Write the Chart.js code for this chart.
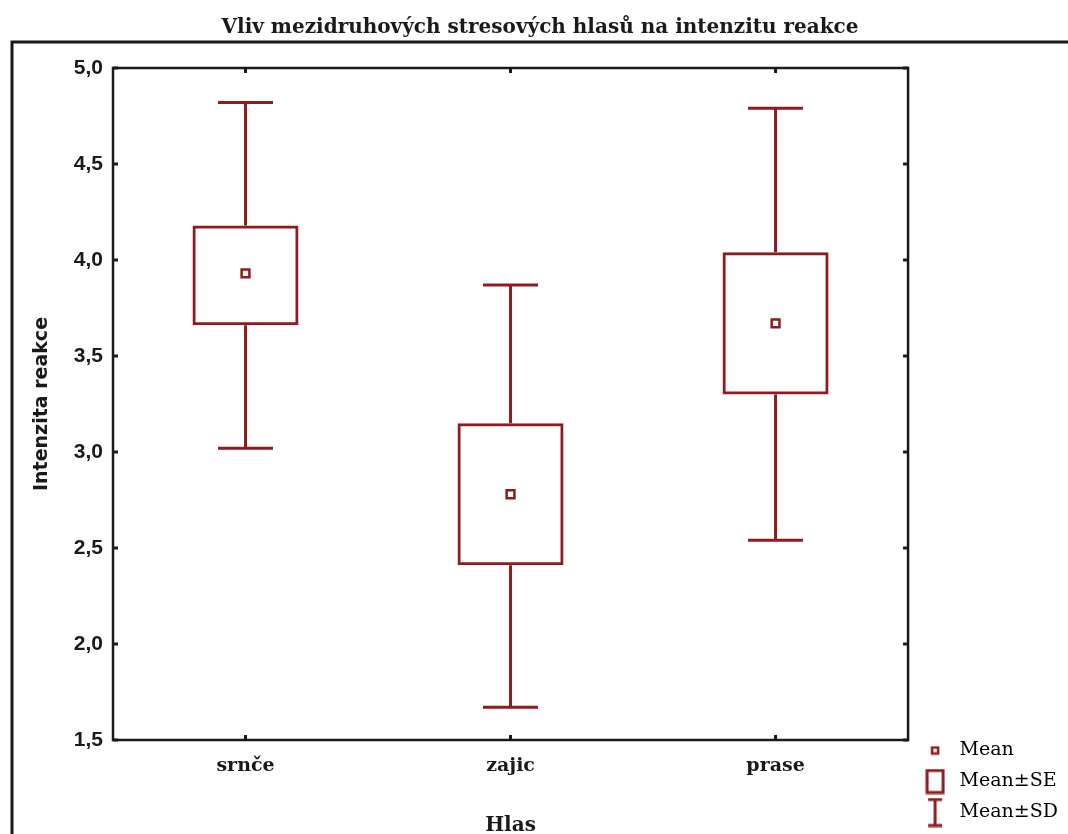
<!DOCTYPE html>
<html>
<head>
<meta charset="utf-8">
<script src="https://cdn.jsdelivr.net/npm/chart.js@4.4.1/dist/chart.umd.min.js"></script>
<style>
  body { margin: 0; background: #fff; }
  #wrap { width: 1068px; height: 834px; }
</style>
</head>
<body>
<div id="wrap"><canvas id="boxChart" width="1068" height="834"></canvas></div>
<script>
const categories = ['srnče', 'zajic', 'prase'];
const means = [3.93, 2.78, 3.67];
const seLow = [3.66, 2.41, 3.30];
const seHigh = [4.18, 3.15, 4.04];
const sdLow = [3.02, 1.67, 2.54];
const sdHigh = [4.82, 3.87, 4.79];
const yMin = 1.5, yMax = 5.0, yStep = 0.5;

const red = '#8c1c1e';
const ink = '#1a1a1a';

function makeIcon(w, h, draw) {
    const c = document.createElement('canvas');
    c.width = w; c.height = h;
    const g = c.getContext('2d');
    g.strokeStyle = red;
    g.lineWidth = 2.5;
    draw(g);
    return c;
}
const iconMean = makeIcon(10, 10, g => { g.strokeRect(2, 2, 6, 6); });
const iconSE = makeIcon(20, 26, g => { g.lineWidth = 3; g.strokeRect(2, 2, 16, 22); });
const iconSD = makeIcon(20, 30, g => {
    g.lineWidth = 3;
    g.beginPath();
    g.moveTo(3, 2); g.lineTo(17, 2);
    g.moveTo(10, 2); g.lineTo(10, 28);
    g.moveTo(3, 28); g.lineTo(17, 28);
    g.stroke();
});

// pozadí a vnější rámeček
const framePlugin = {
    id: 'frame',
    beforeDraw(chart) {
        const ctx = chart.ctx;
        ctx.save();
        ctx.fillStyle = '#fff';
        ctx.fillRect(0, 0, chart.width, chart.height);
        ctx.strokeStyle = ink;
        ctx.lineWidth = 3;
        ctx.beginPath();
        ctx.moveTo(12, chart.height);
        ctx.lineTo(12, 42);
        ctx.lineTo(chart.width, 42);
        ctx.stroke();
        ctx.restore();
    },
    afterDraw(chart) {
        const {ctx, chartArea: a, scales} = chart;
        ctx.save();
        ctx.strokeStyle = ink;
        ctx.lineWidth = 2.5;
        ctx.strokeRect(a.left, a.top, a.right - a.left, a.bottom - a.top);
        ctx.lineWidth = 3;
        ctx.beginPath();
        scales.y.ticks.forEach(t => {
            const y = scales.y.getPixelForValue(t.value);
            ctx.moveTo(a.left, y); ctx.lineTo(a.left + 5, y);
            ctx.moveTo(a.right, y); ctx.lineTo(a.right - 5, y);
        });
        categories.forEach((c, i) => {
            const x = scales.x.getPixelForValue(i);
            ctx.moveTo(x, a.bottom); ctx.lineTo(x, a.bottom - 5);
            ctx.moveTo(x, a.top); ctx.lineTo(x, a.top + 5);
        });
        ctx.stroke();
        ctx.restore();
    }
};

// fousky Mean±SD
const whiskerPlugin = {
    id: 'whiskers',
    afterDatasetsDraw(chart) {
        const {ctx, scales} = chart;
        const bars = chart.getDatasetMeta(0).data;
        ctx.save();
        ctx.strokeStyle = red;
        ctx.lineWidth = 3;
        ctx.beginPath();
        categories.forEach((c, i) => {
            const x = scales.x.getPixelForValue(i);
            const half = bars[i].width / 4 + 1;
            const yTop = scales.y.getPixelForValue(sdHigh[i]);
            const yBot = scales.y.getPixelForValue(sdLow[i]);
            ctx.moveTo(x, yTop); ctx.lineTo(x, scales.y.getPixelForValue(seHigh[i]));
            ctx.moveTo(x, scales.y.getPixelForValue(seLow[i])); ctx.lineTo(x, yBot);
            ctx.moveTo(x - half, yTop); ctx.lineTo(x + half, yTop);
            ctx.moveTo(x - half, yBot); ctx.lineTo(x + half, yBot);
        });
        ctx.stroke();
        ctx.restore();
    }
};

const ctx = document.getElementById('boxChart').getContext('2d');
const chart = new Chart(ctx, {
    type: 'bar',
    data: {
        labels: categories,
        datasets: [
            {
                label: 'Mean±SE',
                data: categories.map((c, i) => [seLow[i], seHigh[i]]),
                backgroundColor: 'rgba(255,255,255,0)',
                borderColor: red,
                borderWidth: 3,
                borderSkipped: false,
                categoryPercentage: 1.0,
                barPercentage: 0.4,
                order: 2
            },
            {
                type: 'line',
                label: 'Mean',
                data: means,
                showLine: false,
                pointStyle: 'rect',
                pointRadius: 5.5,
                pointBorderWidth: 2.5,
                pointBackgroundColor: '#fff',
                pointBorderColor: red,
                order: 1
            }
        ]
    },
    options: {
        responsive: false,
        animation: false,
        layout: { padding: { left: 12, top: 3, right: 0, bottom: 0 } },
        plugins: {
            tooltip: { enabled: false },
            title: {
                display: true,
                text: 'Vliv mezidruhových stresových hlasů na intenzitu reakce',
                color: ink,
                font: { family: 'DejaVu Serif', size: 20, weight: 'bold' },
                padding: { top: 13, bottom: 28 }
            },
            legend: {
                position: 'right',
                align: 'end',
                labels: {
                    usePointStyle: true,
                    pointStyleWidth: 30,
                    padding: 12,
                    color: ink,
                    font: { family: 'DejaVu Serif', size: 19 },
                    generateLabels: () => [
                        { text: 'Mean', pointStyle: iconMean, fillStyle: red, strokeStyle: red, lineWidth: 0 },
                        { text: 'Mean±SE', pointStyle: iconSE, fillStyle: red, strokeStyle: red, lineWidth: 0 },
                        { text: 'Mean±SD', pointStyle: iconSD, fillStyle: red, strokeStyle: red, lineWidth: 0 }
                    ]
                }
            }
        },
        scales: {
            x: {
                offset: true,
                grid: { display: false, drawTicks: false },
                border: { display: false },
                ticks: {
                    color: ink,
                    padding: 15,
                    font: { family: 'DejaVu Serif', size: 19, weight: 'bold' }
                },
                title: {
                    display: true,
                    text: 'Hlas',
                    color: ink,
                    font: { family: 'DejaVu Serif', size: 20, weight: 'bold' },
                    padding: { top: 0, bottom: -4 }
                },
                afterFit(scale) { scale.height = 94; }
            },
            y: {
                min: yMin,
                max: yMax,
                grid: { display: false, drawTicks: false },
                border: { display: false },
                ticks: {
                    stepSize: yStep,
                    color: ink,
                    padding: 10,
                    font: { family: 'Liberation Sans', size: 21, weight: 'bold' },
                    callback: v => v.toFixed(1).replace('.', ',')
                },
                title: {
                    display: true,
                    text: 'Intenzita reakce',
                    color: ink,
                    font: { family: 'DejaVu Sans', size: 19, weight: 'bold' },
                    padding: { top: 19, bottom: 0 }
                },
                afterFit(scale) { scale.width = 101; }
            }
        }
    },
    plugins: [framePlugin, whiskerPlugin]
});
</script>
</body>
</html>
